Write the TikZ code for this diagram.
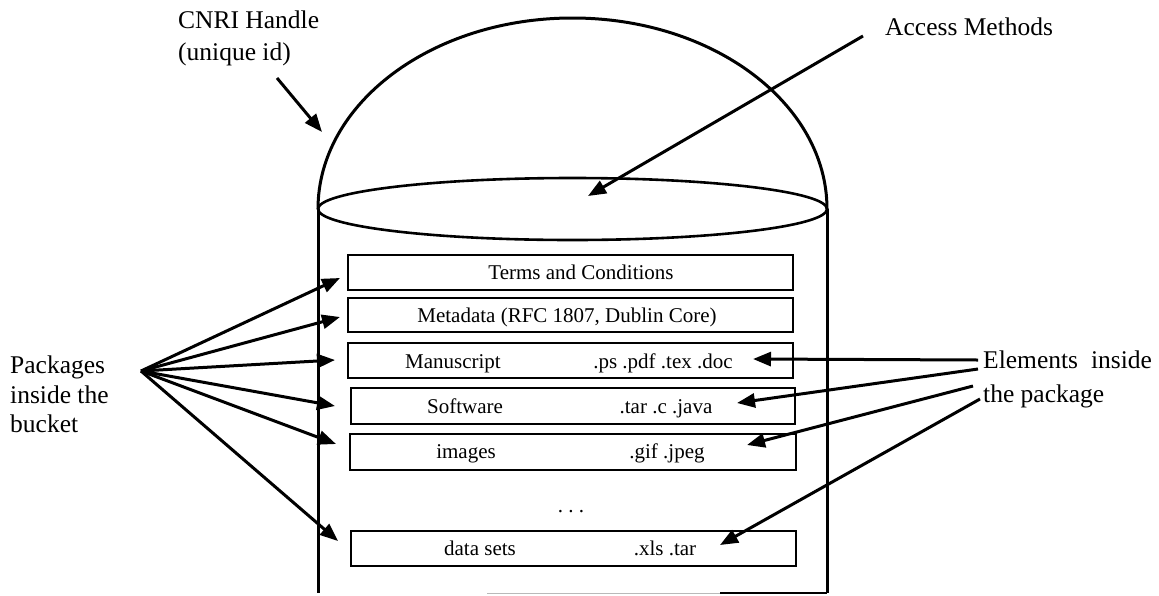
\documentclass[tikz,border=0pt]{standalone}
\usepackage{fontspec}
\setmainfont{Liberation Serif}
\usetikzlibrary{arrows.meta,shapes.geometric}
\begin{document}
\begin{tikzpicture}[x=1pt,y=-1pt,
  lbl/.style={font=\fontsize{25.5}{30}\selectfont, inner sep=0pt, anchor=base west},
  boxtxt/.style={font=\fontsize{21}{25}\selectfont, inner sep=0pt, anchor=base},
  pkgbox/.style={draw, line width=2.4pt, inner sep=0pt, anchor=north west},
  arr/.style={line width=3pt, -{Triangle[length=18pt,width=14pt]}},
  wall/.style={line width=3pt}
]
\useasboundingbox (0,0) rectangle (1159,595);

% bucket
\draw[wall] (318,209) .. controls (318,103.5) and (431.9,18) .. (572.5,18)
                      .. controls (713.1,18) and (827,103.5) .. (827,209);
\node[ellipse, draw, line width=2.6pt, minimum width=509pt, minimum height=62pt, inner sep=0pt] (lid) at (572.5,209) {};
\draw[wall] (318,209) -- (318,593);
\draw[wall] (827,209) -- (827,593);
\draw[gray!55, line width=1pt] (487,593) -- (720,593);
\draw[line width=1.8pt] (720,593) -- (827,593);

% packages
\node[pkgbox, minimum width=445pt, minimum height=35pt] (b1) at (347,254) {};
\node[pkgbox, minimum width=445pt, minimum height=34pt] (b2) at (347,297) {};
\node[pkgbox, minimum width=445pt, minimum height=35pt] (b3) at (347,342) {};
\node[pkgbox, minimum width=444pt, minimum height=36pt] (b4) at (350,387) {};
\node[pkgbox, minimum width=446pt, minimum height=36pt] (b5) at (349,433) {};
\node[pkgbox, minimum width=445pt, minimum height=35pt] (b6) at (350,530) {};

\node[boxtxt] (t1) at (581,279) {Terms and Conditions};
\node[boxtxt] (t2) at (567,322) {Metadata (RFC 1807, Dublin Core)};
\node[boxtxt] (t3a) at (453,368) {Manuscript};
\node[boxtxt] (t3b) at (663,368) {.ps .pdf .tex .doc};
\node[boxtxt] (t4a) at (465,413) {Software};
\node[boxtxt] (t4b) at (666,413) {.tar .c .java};
\node[boxtxt] (t5a) at (466,458) {images};
\node[boxtxt] (t5b) at (667,458) {.gif .jpeg};
\node[boxtxt] (dots) at (571,512) {.\ .\ .};
\node[boxtxt] (t6a) at (480,555) {data sets};
\node[boxtxt] (t6b) at (665,555) {.xls .tar};

% labels
\node[lbl] (cnri1) at (178,28) {CNRI Handle};
\node[lbl] (cnri2) at (178,60) {(unique id)};
\node[lbl] (access) at (885,35) {Access Methods};
\node[lbl] (pk1) at (10,373) {Packages};
\node[lbl] (pk2) at (10,403) {inside the};
\node[lbl] (pk3) at (10,432) {bucket};
\node[lbl] (el1) at (983,368) {Elements\hspace{13pt}inside};
\node[lbl] (el2) at (983,402) {the package};

% connector ends
\coordinate (csrc) at (277,78);
\coordinate (ctip) at (322,132);
\coordinate (asrc) at (863,36);
\coordinate (atip) at (588,196);
\coordinate (psrc) at (141,371);
\coordinate (p1) at (340,278);
\coordinate (p2) at (340,317);
\coordinate (p3) at (335,360);
\coordinate (p4) at (335,406);
\coordinate (p5) at (336,444);
\coordinate (p6) at (338,541);
\coordinate (e1s) at (978,360);
\coordinate (e2s) at (978,369);
\coordinate (e3s) at (973,386);
\coordinate (e4s) at (980,399);
\coordinate (e1) at (753,359);
\coordinate (e2) at (737,403);
\coordinate (e3) at (747,445);
\coordinate (e4) at (720,545);

\draw[arr] (csrc) -- (ctip);
\draw[arr] (asrc) -- (atip);
\foreach \t in {p1,p2,p3,p4,p5,p6} \draw[arr] (psrc) -- (\t);
\draw[arr] (e1s) -- (e1);
\draw[arr] (e2s) -- (e2);
\draw[arr] (e3s) -- (e3);
\draw[arr] (e4s) -- (e4);
\end{tikzpicture}
\end{document}
